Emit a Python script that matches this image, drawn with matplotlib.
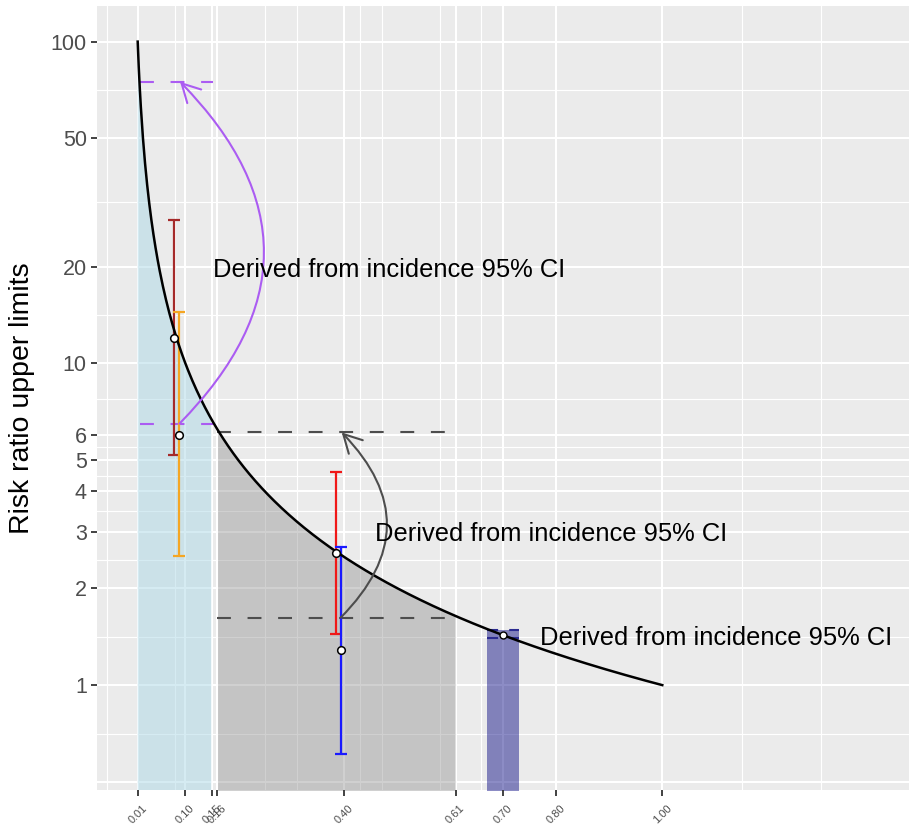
import numpy as np
import matplotlib
matplotlib.use("Agg")
import matplotlib.pyplot as plt
from matplotlib.ticker import NullLocator

plt.rcParams['font.family'] = ['Liberation Sans', 'DejaVu Sans']
plt.rcParams['lines.scale_dashes'] = False

# ---------------- data ----------------
x_breaks = [0.01, 0.10, 0.15, 0.16, 0.40, 0.61, 0.70, 0.80, 1.00]
x_labels = ["0.01", "0.10", "0.15", "0.16", "0.40", "0.61", "0.70", "0.80", "1.00"]
x_minor_grid = [-0.048, 0.080, 0.250, 0.311, 0.429, 0.472, 0.580, 0.657, 1.150, 1.299]
y_breaks = [1, 2, 3, 4, 5, 6, 10, 20, 50, 100]
y_labels = ["1", "2", "3", "4", "5", "6", "10", "20", "50", "100"]
y_extra_major_grid = [0.5]
y_minor_grid = [0.707, 1.414, 2.449, 3.464, 4.472, 5.477, 7.746, 14.14, 31.62, 70.71]

# risk-ratio upper-limit curve: RR = 1 / p
curve_p = np.linspace(0.01, 1.00, 500)
curve_rr = 1.0 / curve_p

blue_band = (0.01, 0.15)
gray_band = (0.16, 0.61)
navy_band = (0.67, 0.73)
navy_top = 1.48
navy_dash_y = [1.48, 1.40]

err_x = [0.078, 0.088, 0.385, 0.393]
err_lo = [5.19, 2.52, 1.44, 0.61]
err_hi = [27.8, 14.4, 4.60, 2.69]
err_pt = [12.0, 6.0, 2.57, 1.285]
err_colors = ["#a52a2a", "#f5a623", "#f01818", "#1a1aff"]

curve_pt_x = [0.70]
curve_pt_y = [1.43]

purple_dash_y = [75.0, 6.5]
purple_dash_x = (0.014, 0.152)
gray_dash_y = [6.10, 1.62]
gray_dash_x = (0.16, 0.61)

purple_arrow = ((0.089, 6.5), (0.090, 75.0))
gray_arrow = ((0.393, 1.62), (0.395, 6.10))

label_text = "Derived from incidence 95% CI"
label_pos = [(0.1527, 18.56), (0.4578, 2.80), (0.769, 1.332)]

# ---------------- figure ----------------
fig = plt.figure(figsize=(9.09, 8.25), dpi=100)
ax = fig.add_axes([0.1067, 0.0424, 0.8933, 0.9503])
ax.set_facecolor('#ebebeb')
for s in ax.spines.values():
    s.set_visible(False)
ax.set_yscale('log')
ax.set_xlim(-0.0668, 1.4656)
ax.set_ylim(0.472, 129)

# grid
for v in x_breaks:
    ax.axvline(v, color='white', lw=1.45, zorder=0.5)
for v in x_minor_grid:
    ax.axvline(v, color='white', lw=0.8, zorder=0.5)
for v in y_breaks + y_extra_major_grid:
    ax.axhline(v, color='white', lw=1.45, zorder=0.5)
for v in y_minor_grid:
    ax.axhline(v, color='white', lw=0.8, zorder=0.5)

# shaded regions
ylow = 0.1
m = (curve_p >= blue_band[0]) & (curve_p <= blue_band[1])
ax.fill_between(curve_p[m], ylow, curve_rr[m], color='#add8e6', alpha=0.5, lw=0, zorder=1)
m = (curve_p >= gray_band[0]) & (curve_p <= gray_band[1])
ax.fill_between(curve_p[m], ylow, curve_rr[m], color='#8a8a8a', alpha=0.4, lw=0, zorder=1)
ax.fill_between(list(navy_band), ylow, navy_top, color='#000080', alpha=0.45, lw=0, zorder=1)

# dashed reference lines
for yv in purple_dash_y:
    ax.plot(purple_dash_x, [yv, yv], color='#ab5cf2', lw=1.5, linestyle=(0, (10, 12)), zorder=2)
for yv in gray_dash_y:
    ax.plot(gray_dash_x, [yv, yv], color='#4d4d4d', lw=1.5, linestyle=(0, (10, 12)), zorder=2)
for yv in navy_dash_y:
    ax.plot(navy_band, [yv, yv], color='#2b2b90', lw=1.5, linestyle=(0, (8, 8)), zorder=2)

# error bars
for xv, lo, hi, pt, c in zip(err_x, err_lo, err_hi, err_pt, err_colors):
    ax.errorbar([xv], [pt], yerr=[[pt - lo], [hi - pt]], fmt='none', ecolor=c,
                elinewidth=1.6, capsize=4, capthick=1.6, zorder=3)

# curve
ax.plot(curve_p, curve_rr, color='black', lw=1.8, zorder=4)

# points
ax.plot(err_x, err_pt, 'o', ms=5.5, mfc='white', mec='black', mew=1.1, zorder=6)
ax.plot(curve_pt_x, curve_pt_y, 'o', ms=5.0, mfc='white', mec='black', mew=1.0, zorder=6)

# curved arrows
ax.annotate('', xy=purple_arrow[1], xytext=purple_arrow[0],
            arrowprops=dict(arrowstyle='->,head_length=0.65,head_width=0.35',
                            connectionstyle='arc3,rad=0.49', color='#ab5cf2', lw=1.5,
                            shrinkA=0, shrinkB=0, mutation_scale=20), zorder=5)
ax.annotate('', xy=gray_arrow[1], xytext=gray_arrow[0],
            arrowprops=dict(arrowstyle='->,head_length=0.65,head_width=0.35',
                            connectionstyle='arc3,rad=0.49', color='#4d4d4d', lw=1.5,
                            shrinkA=0, shrinkB=0, mutation_scale=20), zorder=5)

# labels
for (lx, ly) in label_pos:
    ax.text(lx, ly, label_text, ha='left', va='baseline', fontsize=18.4, color='black', zorder=7)

# ticks
ax.set_xticks(x_breaks)
ax.set_xticklabels(x_labels, rotation=45, ha='center', va='top', fontsize=8, color='#4d4d4d')
ax.set_yticks(y_breaks)
ax.set_yticklabels(y_labels)
ax.xaxis.set_minor_locator(NullLocator())
ax.yaxis.set_minor_locator(NullLocator())
ax.tick_params(axis='both', which='major', length=4.3, width=1.3, color='#333333')
ax.tick_params(axis='y', pad=3, labelsize=15.5, labelcolor='#4d4d4d')
ax.tick_params(axis='x', pad=5)

ax.set_ylabel('Risk ratio upper limits', fontsize=20.5, color='black')
ax.yaxis.set_label_coords(-0.0764, 0.5)

fig.savefig('out.png', dpi=100, facecolor='white')
